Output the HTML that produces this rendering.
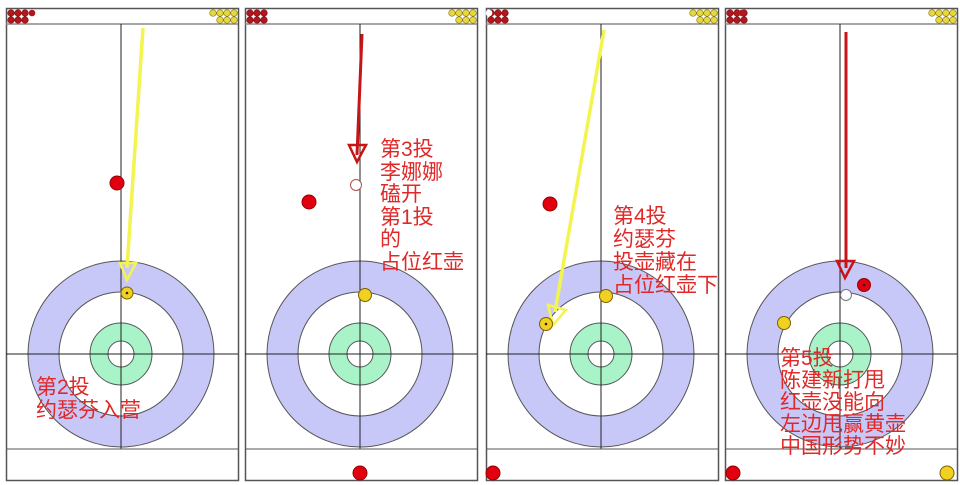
<!DOCTYPE html>
<html><head><meta charset="utf-8"><style>
html,body{margin:0;padding:0;background:#fff;}
svg{display:block;}
text{font-family:"Liberation Sans","Noto Sans CJK SC",sans-serif;font-size:21px;fill:#e02828;}
</style></head><body>
<svg width="960" height="485" viewBox="0 0 960 485" xmlns="http://www.w3.org/2000/svg">
<defs>
<g id="sheet">
  <rect x="0.5" y="8.5" width="232" height="472" fill="#fff" stroke="#555" stroke-width="1.5"/>
  <line x1="0" y1="24" x2="232" y2="24" stroke="#888" stroke-width="1.5"/>
  <circle cx="115" cy="354" r="93" fill="#c8c8f8" stroke="#555"/>
  <circle cx="115" cy="354" r="62" fill="#fff" stroke="#555"/>
  <circle cx="115" cy="354" r="31" fill="#a8f4c8" stroke="#555"/>
  <circle cx="115" cy="354" r="13" fill="#fff" stroke="#555"/>
  <line x1="115" y1="24" x2="115" y2="449" stroke="#222" stroke-width="1"/>
  <line x1="0" y1="354" x2="232" y2="354" stroke="#222" stroke-width="1"/>
  <line x1="0" y1="449" x2="232" y2="449" stroke="#555" stroke-width="1"/>
  <g fill="#b01820" stroke="#801010" stroke-width="0.6">
    <circle cx="5" cy="13" r="3.3"/><circle cx="12" cy="13" r="3.3"/><circle cx="19" cy="13" r="3.3"/>
    <circle cx="5" cy="20" r="3.3"/><circle cx="12" cy="20" r="3.3"/><circle cx="19" cy="20" r="3.3"/>
  </g>
  <g fill="#e8d840" stroke="#807010" stroke-width="0.6">
    <circle cx="207" cy="13" r="3.3"/><circle cx="214" cy="13" r="3.3"/><circle cx="221" cy="13" r="3.3"/><circle cx="228" cy="13" r="3.3"/>
    <circle cx="214" cy="20" r="3.3"/><circle cx="221" cy="20" r="3.3"/><circle cx="228" cy="20" r="3.3"/>
  </g>
</g>
</defs>

<!-- Panel 1 -->
<g transform="translate(6,0)"><use href="#sheet"/></g>
<circle cx="32" cy="13" r="3.3" fill="#b01820"/>
<line x1="143" y1="28" x2="127" y2="268" stroke="#f4f450" stroke-width="3.5"/>
<polygon points="120,263 136,263 127,280" fill="none" stroke="#f4f450" stroke-width="2.5"/>
<circle cx="127" cy="293" r="6" fill="#f0d020" stroke="#806000"/><circle cx="127" cy="293" r="1.3" fill="#222"/>
<circle cx="117" cy="183" r="7" fill="#e00010" stroke="#900"/>
<text x="36" y="394">第2投</text>
<text x="36" y="417">约瑟芬入营</text>

<!-- Panel 2 -->
<g transform="translate(245,0)"><use href="#sheet"/></g>
<line x1="362" y1="34" x2="357" y2="155" stroke="#c81414" stroke-width="3"/>
<polygon points="349,145 366,145 357,162" fill="none" stroke="#c81414" stroke-width="2.5"/>
<circle cx="356" cy="185" r="5.5" fill="#fff" stroke="#b05050"/>
<circle cx="309" cy="202" r="7" fill="#e00010" stroke="#900"/>
<circle cx="365" cy="295" r="6.5" fill="#f0d020" stroke="#806000"/>
<circle cx="360" cy="473" r="7" fill="#e00010" stroke="#900"/>
<text x="380" y="156">第3投</text>
<text x="380" y="179">李娜娜</text>
<text x="380" y="201">磕开</text>
<text x="380" y="224">第1投</text>
<text x="380" y="246">的</text>
<text x="380" y="269">占位红壶</text>

<!-- Panel 3 -->
<g transform="translate(486,0)"><use href="#sheet"/></g>
<circle cx="489" cy="13" r="3.3" fill="#fff"/>
<line x1="604" y1="30" x2="555" y2="312" stroke="#f4f450" stroke-width="3.5"/>
<polygon points="548,305 566,310 553,325" fill="none" stroke="#f4f450" stroke-width="2.5"/>
<circle cx="546" cy="324" r="6.5" fill="#f0d020" stroke="#806000"/><circle cx="546" cy="324" r="1.3" fill="#222"/>
<circle cx="606" cy="296" r="6.5" fill="#f0d020" stroke="#806000"/>
<circle cx="550" cy="204" r="7" fill="#e00010" stroke="#900"/>
<circle cx="493" cy="473" r="7" fill="#e00010" stroke="#900"/>
<text x="613" y="223">第4投</text>
<text x="613" y="246">约瑟芬</text>
<text x="613" y="269">投壶藏在</text>
<text x="613" y="292">占位红壶下</text>

<!-- Panel 4 -->
<g transform="translate(725,0)"><use href="#sheet"/></g>
<circle cx="742" cy="13" r="3.3" fill="#b01820"/>
<line x1="846" y1="32" x2="846" y2="268" stroke="#c81414" stroke-width="3"/>
<polygon points="837,261 854,261 845,278" fill="none" stroke="#c81414" stroke-width="2.5"/>
<circle cx="864" cy="285" r="6.5" fill="#e00010" stroke="#900"/><circle cx="864" cy="285" r="1.3" fill="#222"/>
<circle cx="846" cy="295" r="5.5" fill="#fff" stroke="#777"/>
<circle cx="784" cy="323" r="6.5" fill="#f0d020" stroke="#806000"/>
<circle cx="733" cy="473" r="7" fill="#e00010" stroke="#900"/>
<circle cx="947" cy="473" r="7" fill="#f0d020" stroke="#806000"/>
<text x="780" y="365">第5投</text>
<text x="780" y="387">陈建新打甩</text>
<text x="780" y="409">红壶没能向</text>
<text x="780" y="431">左边甩赢黄壶</text>
<text x="780" y="453">中国形势不妙</text>
</svg>
</body></html>
